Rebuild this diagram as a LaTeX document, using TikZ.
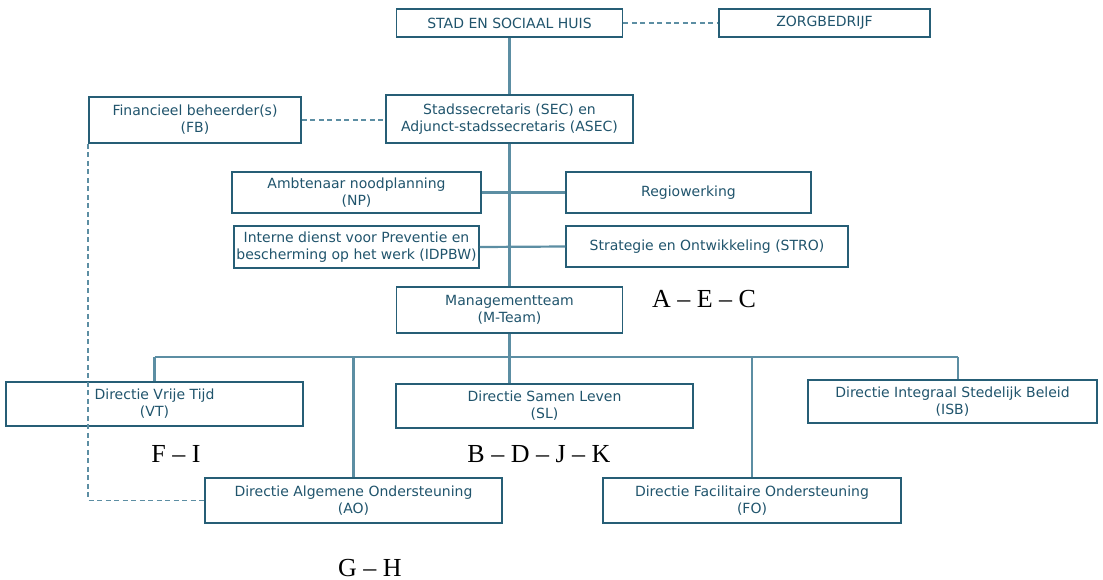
\documentclass[tikz,border=0pt]{standalone}
\usepackage{fontspec}
\setmainfont{DejaVu Sans}
\newfontfamily\labelfont{Liberation Serif}
\usepackage{xcolor}
\definecolor{boxcol}{RGB}{38,94,118}
\definecolor{linkcol}{RGB}{92,142,163}
\definecolor{txtcol}{RGB}{32,84,108}

\begin{document}
\begin{tikzpicture}[x=1pt, y=-1pt,
	orgbox/.style={draw=boxcol, line width=1.5pt, text=txtcol, align=center,
		inner sep=0pt, font=\fontsize{14}{17}\selectfont},
	link/.style={draw=linkcol, line width=2.2pt},
	dashlink/.style={draw=linkcol, line width=1.6pt, dash pattern=on 5pt off 3.5pt},
	letters/.style={font=\labelfont\fontsize{26}{30}\selectfont, text=black, anchor=base, inner sep=0pt}]
	\useasboundingbox (0,0) rectangle (1103,579);
	% top level
	\node[orgbox, minimum width=226pt, minimum height=28pt] (sh) at (509.5,23) {STAD EN SOCIAAL HUIS};
	\node[orgbox, minimum width=211pt, minimum height=28pt] (zorg) at (824.5,23) {ZORGBEDRIJF};
	\node[orgbox, minimum width=247pt, minimum height=48pt] (sec) at (509.5,119) {Stadssecretaris (SEC) en\\Adjunct-stadssecretaris (ASEC)};
	\node[orgbox, minimum width=212pt, minimum height=46pt] (fb) at (195,120) {Financieel beheerder(s)\\(FB)};
	% staff services
	\node[orgbox, minimum width=249pt, minimum height=41pt] (np) at (356.5,192.5) {Ambtenaar noodplanning\\(NP)};
	\node[orgbox, minimum width=245pt, minimum height=41pt] (regio) at (688.5,192.5) {Regiowerking};
	\node[orgbox, minimum width=245pt, minimum height=42pt] (idpbw) at (356.5,247) {Interne dienst voor Preventie en\\bescherming op het werk (IDPBW)};
	\node[orgbox, minimum width=282pt, minimum height=41pt] (stro) at (707,246.5) {Strategie en Ontwikkeling (STRO)};
	\node[orgbox, minimum width=226pt, minimum height=46pt] (mteam) at (509.5,310) {Managementteam\\(M-Team)};
	% directies
	\node[orgbox, minimum width=297pt, minimum height=44pt] (vt) at (154.5,404) {Directie Vrije Tijd\\(VT)};
	\node[orgbox, minimum width=297pt, minimum height=44pt] (sl) at (544.5,406) {Directie Samen Leven\\(SL)};
	\node[orgbox, minimum width=289pt, minimum height=43pt] (isb) at (952.5,401.5) {Directie Integraal Stedelijk Beleid\\(ISB)};
	\node[orgbox, minimum width=297pt, minimum height=45pt] (ao) at (353.5,500.5) {Directie Algemene Ondersteuning\\(AO)};
	\node[orgbox, minimum width=298pt, minimum height=45pt] (fo) at (752,500.5) {Directie Facilitaire Ondersteuning\\(FO)};
	% letter labels
	\node[letters] (aec) at (704,307) {A – E – C};
	\node[letters] (fi) at (176,462) {F – I};
	\node[letters] (bdjk) at (539,462) {B – D – J – K};
	\node[letters] (gh) at (370,576) {G – H};
	% connectors
	\coordinate (bus) at (509.5,357);
	\draw[link] (sh.south) -- (sec.north);
	\draw[link] (sec.south) -- (mteam.north);
	\draw[link] (mteam.south) -- (bus);
	\draw[link] (np.east) -- (regio.west);
	\draw[link] (idpbw.east) -- (stro.west);
	\draw[link] (vt.north |- bus) -- ([xshift=5.5pt]isb.north |- bus);
	\draw[link] (bus) -- (bus |- sl.north);
	\foreach \d in {vt, ao, fo} {
		\draw[link] (\d.north |- bus) -- (\d.north);
	}
	\draw[link] ([xshift=5.5pt]isb.north |- bus) -- ([xshift=5.5pt]isb.north);
	\draw[dashlink] (sh.east) -- (zorg.west);
	\draw[dashlink] (fb.east) -- (fb.east -| sec.west);
	\draw[dashlink] (fb.south west) -- (fb.south west |- ao.west) -- (ao.west);
\end{tikzpicture}
\end{document}
